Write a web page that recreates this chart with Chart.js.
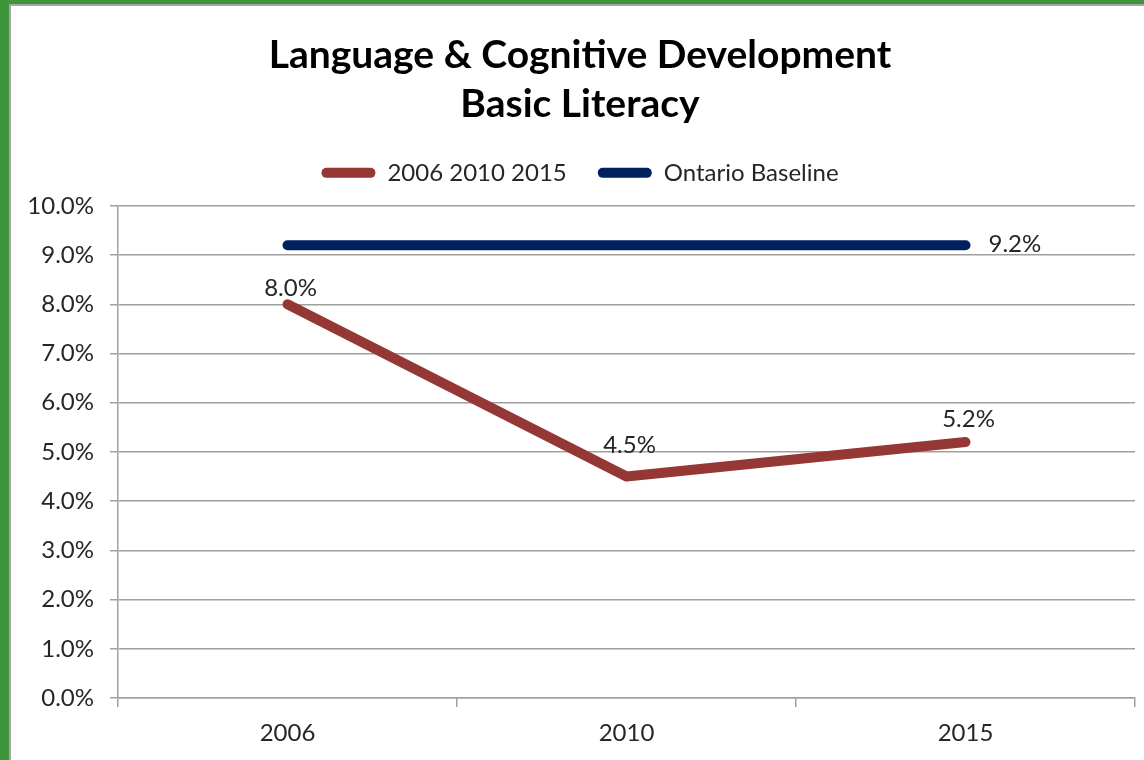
<!DOCTYPE html>
<html>
<head>
<meta charset="utf-8">
<script src="https://cdn.jsdelivr.net/npm/chart.js@4"></script>
<style>
  html, body { margin: 0; padding: 0; }
  body { width: 1144px; height: 760px; background: #3d9639; position: relative; overflow: hidden; }
  #frame { position: absolute; left: 9px; top: 4px; width: 1135px; height: 756px;
           border-left: 2px solid #a6a6a6; border-top: 2px solid #a6a6a6; background: #fff; }
  #chart { display: block; }
</style>
</head>
<body>
<div id="frame"><canvas id="chart" width="1133" height="754"></canvas></div>
<script>
const categories = ['2006', '2010', '2015'];
const literacyRates = [8.0, 4.5, 5.2];
const ontarioBaseline = [9.2, 9.2, 9.2];
const yTicks = [0, 1, 2, 3, 4, 5, 6, 7, 8, 9, 10];

const FONT = 'Lato, "Open Sans", sans-serif';
const TEXT = '#262626';

// Value labels: literacy labels sit above their points, baseline label sits right of its last point
const valueLabels = {
  id: 'valueLabels',
  afterDatasetsDraw(chart) {
    const ctx = chart.ctx;
    ctx.save();
    ctx.font = '24px ' + FONT;
    ctx.fillStyle = TEXT;
    ctx.textBaseline = 'middle';
    const lift = [16, 31, 23];
    chart.getDatasetMeta(0).data.forEach((pt, i) => {
      ctx.textAlign = 'center';
      ctx.fillText(literacyRates[i].toFixed(1) + '%', pt.x + 3, pt.y - lift[i]);
    });
    const base = chart.getDatasetMeta(1).data;
    const last = base[base.length - 1];
    ctx.textAlign = 'left';
    ctx.fillText(ontarioBaseline[ontarioBaseline.length - 1].toFixed(1) + '%', last.x + 23, last.y - 1);
    ctx.restore();
  }
};

// Extra breathing room between the legend row and the plot area
const legendGap = {
  id: 'legendGap',
  beforeLayout(chart) {
    const lg = chart.legend;
    if (lg && !lg._gapAdded) {
      const fit = lg.fit.bind(lg);
      lg.fit = function () { fit(); this.height += 11; };
      lg._gapAdded = true;
    }
  }
};

new Chart(document.getElementById('chart'), {
  type: 'line',
  data: {
    labels: categories,
    datasets: [
      {
        label: '2006 2010 2015',
        data: literacyRates,
        borderColor: '#953735',
        backgroundColor: '#953735',
        borderWidth: 10,
        borderCapStyle: 'round',
        borderJoinStyle: 'round',
        pointRadius: 0,
        tension: 0
      },
      {
        label: 'Ontario Baseline',
        data: ontarioBaseline,
        borderColor: '#002060',
        backgroundColor: '#002060',
        borderWidth: 10,
        borderCapStyle: 'round',
        pointRadius: 0,
        tension: 0
      }
    ]
  },
  options: {
    responsive: false,
    animation: false,
    layout: { padding: { left: 14, right: 9, top: 0, bottom: 0 } },
    plugins: {
      title: {
        display: true,
        text: ['Language & Cognitive Development', 'Basic Literacy'],
        color: '#000',
        font: { family: FONT, size: 39, weight: 'bold', lineHeight: 1.28 },
        padding: { top: 24, bottom: 0 }
      },
      legend: {
        display: true,
        position: 'top',
        labels: {
          color: TEXT,
          font: { family: FONT, size: 24 },
          boxWidth: 54,
          boxHeight: 10,
          useBorderRadius: true,
          borderRadius: 5,
          padding: 31,
          generateLabels(chart) {
            return chart.data.datasets.map((ds, i) => ({
              text: ds.label,
              fillStyle: ds.borderColor,
              strokeStyle: ds.borderColor,
              lineWidth: 0,
              borderRadius: 5,
              fontColor: TEXT,
              datasetIndex: i,
              hidden: false
            }));
          }
        }
      },
      tooltip: { enabled: false }
    },
    scales: {
      x: {
        offset: true,
        grid: {
          offset: true,
          drawOnChartArea: false,
          drawTicks: true,
          tickLength: 9,
          color: '#a0a0a0',
          lineWidth: 1.5
        },
        border: { display: true, color: '#a0a0a0', width: 1.5 },
        ticks: { color: TEXT, font: { family: FONT, size: 24 }, padding: 12 },
        afterFit(scale) { scale.height = 62; }
      },
      y: {
        min: 0,
        max: 10,
        afterBuildTicks(scale) { scale.ticks = yTicks.map(v => ({ value: v })); },
        grid: { color: '#a0a0a0', lineWidth: 1.5, tickLength: 8, drawTicks: true },
        border: { display: true, color: '#a0a0a0', width: 1.5 },
        ticks: {
          color: TEXT,
          font: { family: FONT, size: 24 },
          padding: 16,
          callback: v => v.toFixed(1) + '%'
        },
        afterFit(scale) { scale.width = 93; }
      }
    }
  },
  plugins: [valueLabels, legendGap]
});
</script>
</body>
</html>
